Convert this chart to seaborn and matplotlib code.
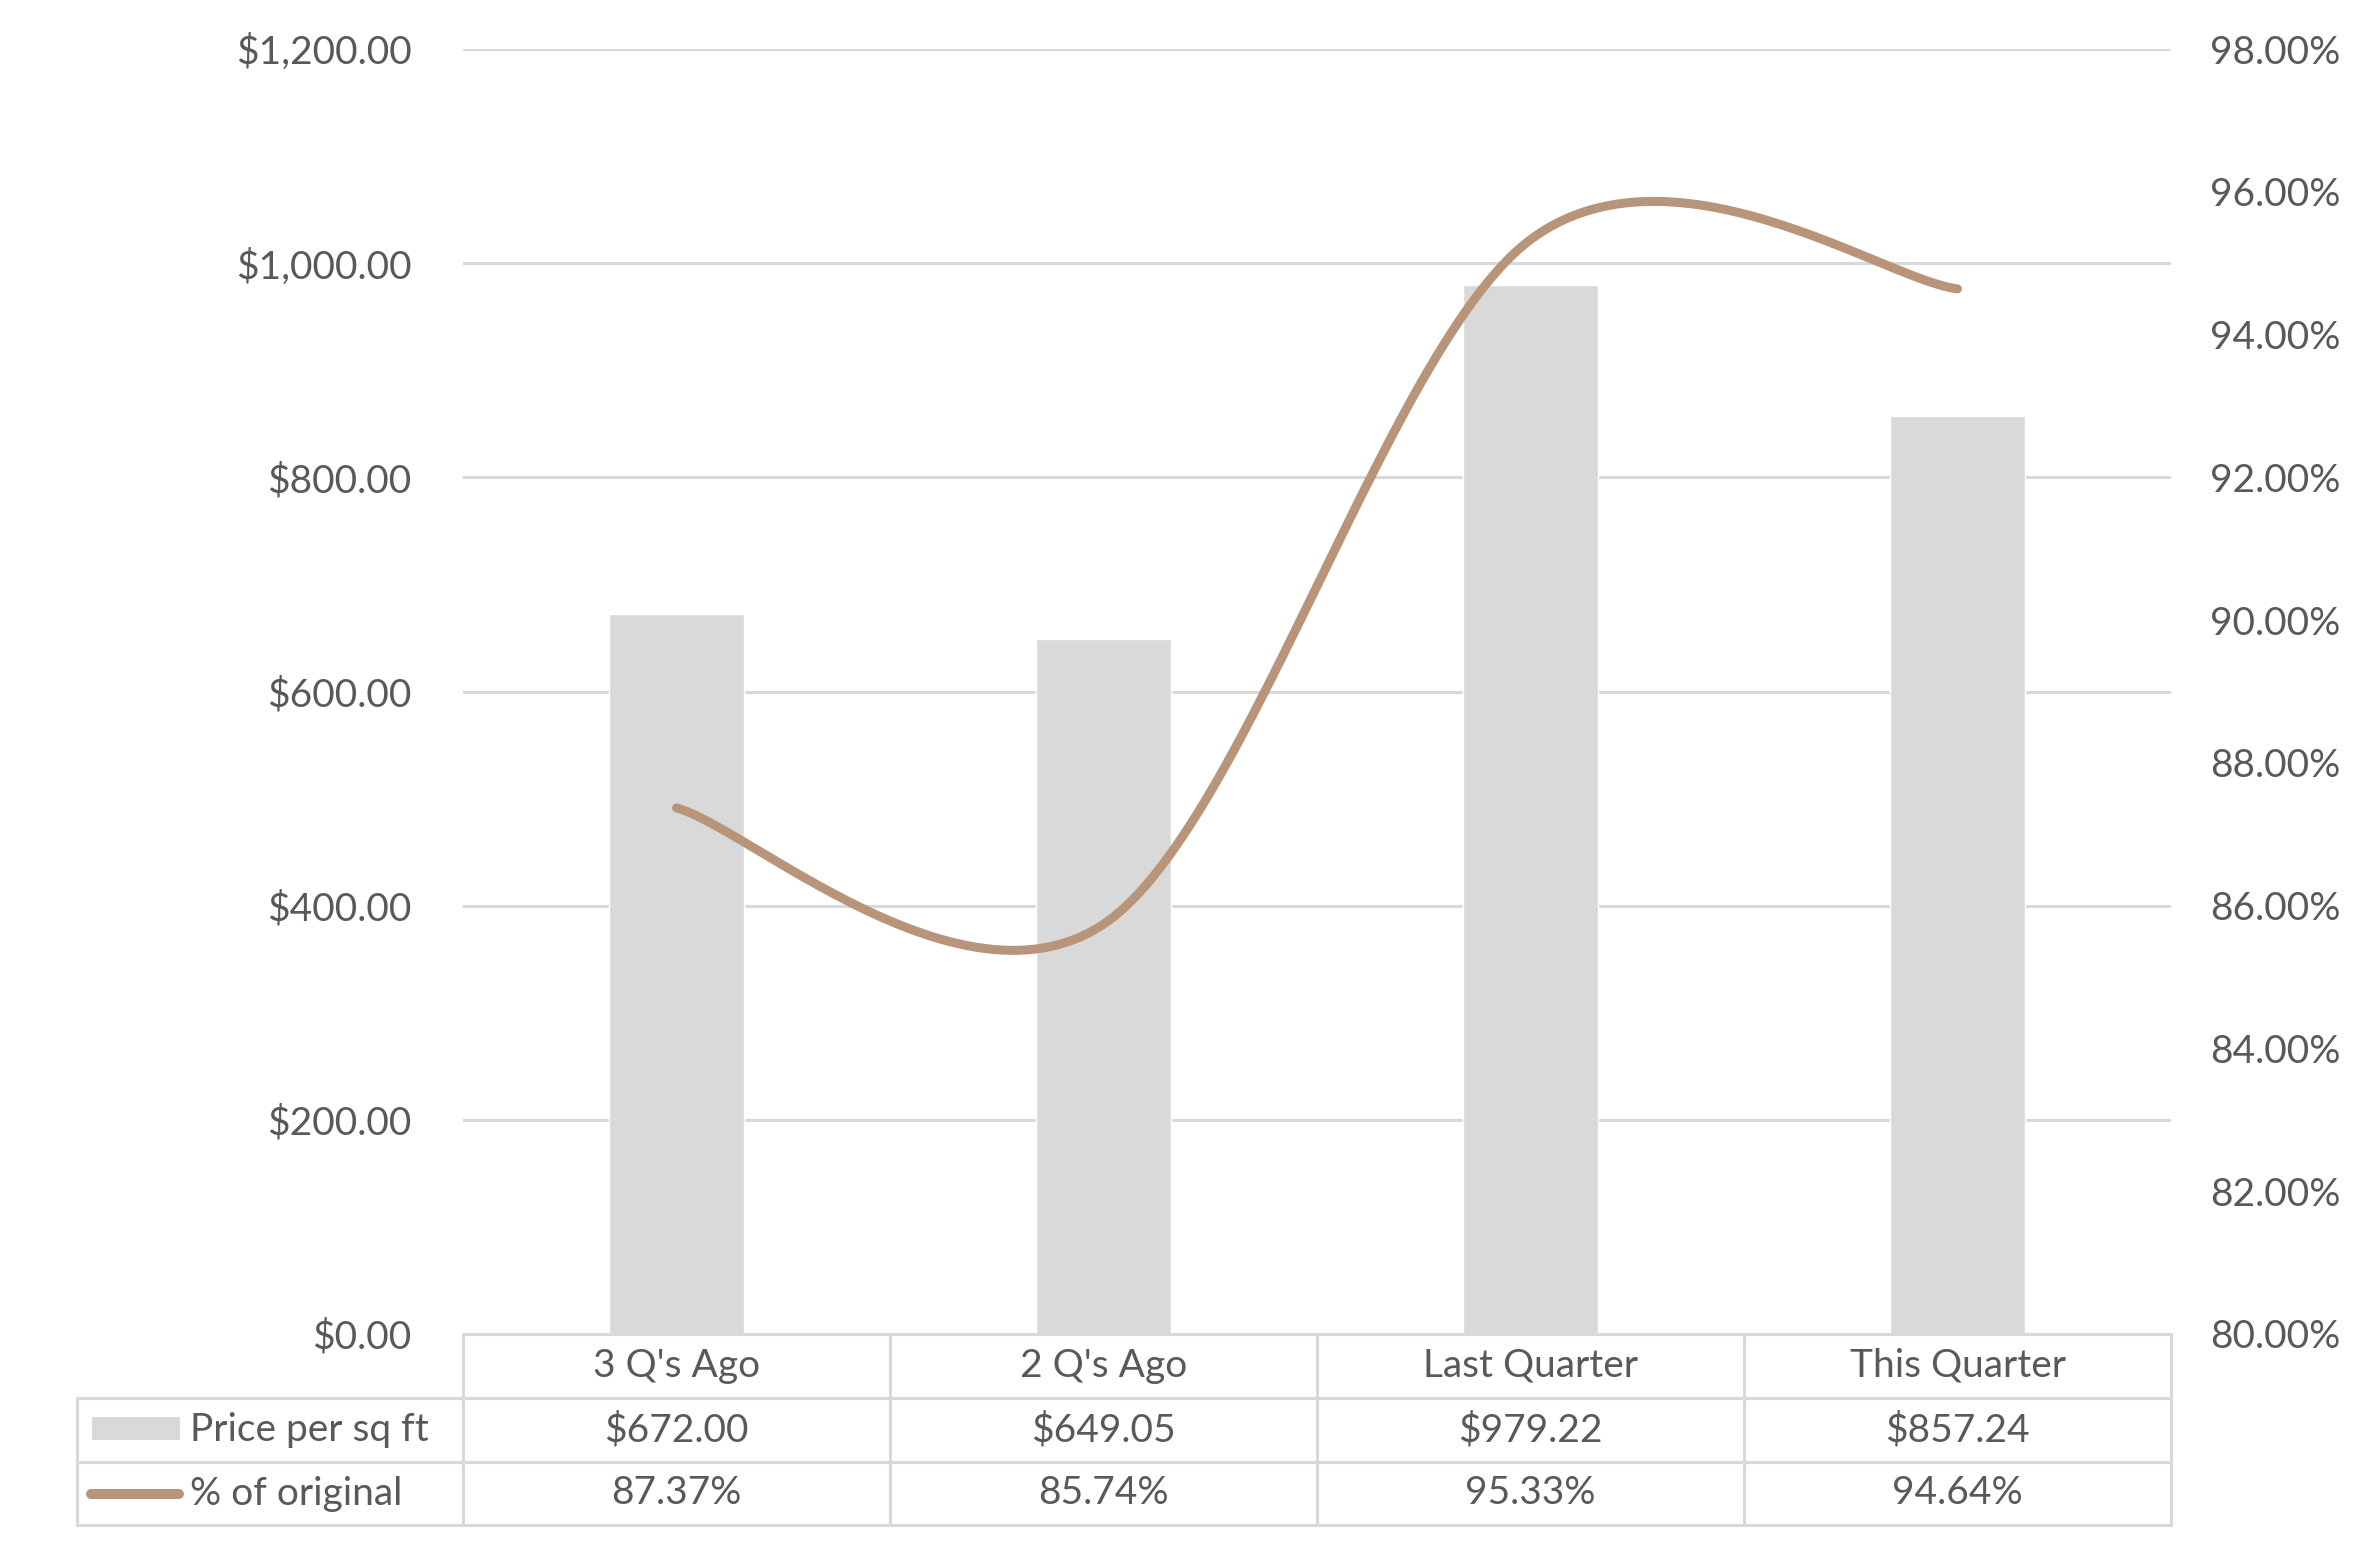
import numpy as np
import pandas as pd
import matplotlib
matplotlib.use("Agg")
import matplotlib.pyplot as plt
from matplotlib.lines import Line2D
from matplotlib.patches import Rectangle
import seaborn as sns

# ---- data ----
categories = ["3 Q's Ago", "2 Q's Ago", "Last Quarter", "This Quarter"]
price_per_sqft = [672.00, 649.05, 979.22, 857.24]
pct_of_original = [87.37, 85.74, 95.33, 94.64]
series_names = ["Price per sq ft", "% of original"]
left_ticks = [0, 200, 400, 600, 800, 1000, 1200]
right_ticks = [80, 82, 84, 86, 88, 90, 92, 94, 96, 98]

BAR_COLOR = "#D9D9D9"
LINE_COLOR = "#B8957A"
TEXT_COLOR = "#595959"
GRID_COLOR = "#D9D9D9"

sns.set_theme(style="white")
plt.rcParams["font.family"] = ["Lato", "DejaVu Sans"]
plt.rcParams["font.weight"] = "normal"

W, H = 2379, 1550
fig = plt.figure(figsize=(W / 100, H / 100), dpi=100)

# axes position in pixels (full size)
L, R, T, B = 463, 2171, 49, 1334
ax = fig.add_axes([L / W, 1 - B / H, (R - L) / W, (B - T) / H])

FS = 28

df = pd.DataFrame({"cat": categories, "price": price_per_sqft})
sns.barplot(data=df, x="cat", y="price", color=BAR_COLOR, saturation=1,
            width=0.316, ax=ax, zorder=2)
ax.set_xlim(-0.5, len(categories) - 0.5)
ax.set_ylim(0, 1200)
ax.set_yticks(left_ticks)
ax.set_yticklabels([f"${v:,.2f}" for v in left_ticks])
ax.yaxis.grid(True, color=GRID_COLOR, linewidth=2.2, zorder=0)
ax.set_axisbelow(True)
ax.set_xlabel("")
ax.set_ylabel("")
ax.set_xticks([])
for s in ax.spines.values():
    s.set_visible(False)
ax.tick_params(axis="y", length=0, pad=37, labelsize=FS, labelcolor=TEXT_COLOR)


# Excel-style smoothed line (Bezier with Catmull-Rom control points)
def smooth(xs, ys, n=60):
    xs = np.asarray(xs, float)
    ys = np.asarray(ys, float)
    px = np.concatenate([[xs[0]], xs, [xs[-1]]])
    py = np.concatenate([[ys[0]], ys, [ys[-1]]])
    ox, oy = [], []
    t = np.linspace(0, 1, n)
    for i in range(1, len(xs)):
        p0 = np.array([px[i], py[i]])
        p3 = np.array([px[i + 1], py[i + 1]])
        c1 = p0 + (np.array([px[i + 1], py[i + 1]]) - np.array([px[i - 1], py[i - 1]])) / 6
        c2 = p3 - (np.array([px[i + 2], py[i + 2]]) - np.array([px[i], py[i]])) / 6
        pts = ((1 - t) ** 3)[:, None] * p0 + (3 * (1 - t) ** 2 * t)[:, None] * c1 \
            + (3 * (1 - t) * t ** 2)[:, None] * c2 + (t ** 3)[:, None] * p3
        ox.extend(pts[:, 0])
        oy.extend(pts[:, 1])
    return np.array(ox), np.array(oy)


ax2 = ax.twinx()
sx, sy = smooth(range(len(categories)), pct_of_original)
sns.lineplot(x=sx, y=sy, sort=False, color=LINE_COLOR, linewidth=6.5, ax=ax2,
             solid_capstyle="round")
ax2.set_ylim(80, 98)
ax2.set_yticks(right_ticks)
ax2.set_yticklabels([f"{v:.2f}%" for v in right_ticks])
ax2.tick_params(axis="y", length=0, pad=28, labelsize=FS, labelcolor=TEXT_COLOR)
for s in ax2.spines.values():
    s.set_visible(False)
ax2.grid(False)
ax2.set_xlim(-0.5, len(categories) - 0.5)

# ---- data table (positions in full-size pixels) ----


def fx(px):
    return px / W


def fy(py):
    return 1 - py / H


def hline(x0, x1, y):
    fig.add_artist(Line2D([fx(x0), fx(x1)], [fy(y), fy(y)], color=GRID_COLOR,
                          linewidth=2.2, transform=fig.transFigure))


def vline(x, y0, y1):
    fig.add_artist(Line2D([fx(x), fx(x)], [fy(y0), fy(y1)], color=GRID_COLOR,
                          linewidth=2.2, transform=fig.transFigure))


tl, tr = L, R
r0, r1, r2, r3 = 1334, 1398, 1462, 1525
leg_left = 77
hline(tl, tr, r0)
hline(leg_left, tr, r1)
hline(leg_left, tr, r2)
hline(leg_left, tr, r3)
vline(leg_left, r1, r3)
ncat = len(categories)
colw = (tr - tl) / ncat
for i in range(ncat + 1):
    vline(tl + i * colw, r0, r3)

rows_y = [(r0 + r1) / 2, (r1 + r2) / 2, (r2 + r3) / 2]
for i, c in enumerate(categories):
    cx = fx(tl + (i + 0.5) * colw)
    fig.text(cx, fy(rows_y[0]), c, ha="center", va="center", fontsize=FS, color=TEXT_COLOR)
    fig.text(cx, fy(rows_y[1]), f"${price_per_sqft[i]:,.2f}", ha="center", va="center",
             fontsize=FS, color=TEXT_COLOR)
    fig.text(cx, fy(rows_y[2]), f"{pct_of_original[i]:.2f}%", ha="center", va="center",
             fontsize=FS, color=TEXT_COLOR)

# legend keys
fig.add_artist(Rectangle((fx(92), fy(1440)), fx(180) - fx(92), fy(1417) - fy(1440),
                         facecolor=BAR_COLOR, edgecolor="none", transform=fig.transFigure))
fig.add_artist(Line2D([fx(91), fx(179)], [fy(rows_y[2]), fy(rows_y[2])], color=LINE_COLOR,
                      linewidth=7.2, solid_capstyle="round", transform=fig.transFigure))
fig.text(fx(190), fy(rows_y[1]), series_names[0], ha="left", va="center", fontsize=FS,
         color=TEXT_COLOR)
fig.text(fx(190), fy(rows_y[2]), series_names[1], ha="left", va="center", fontsize=FS,
         color=TEXT_COLOR)

fig.savefig("out.png", dpi=100, facecolor="white")
